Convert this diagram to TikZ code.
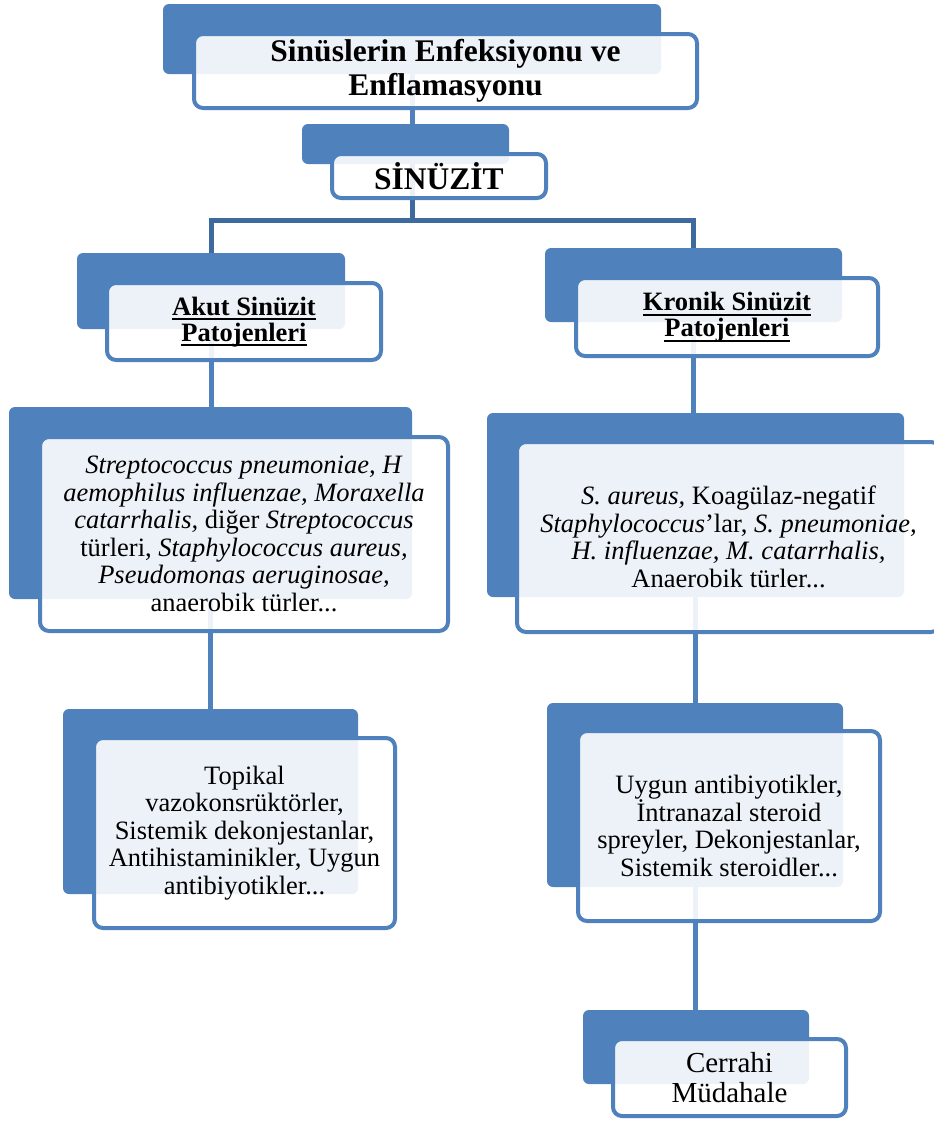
\documentclass[tikz,border=0pt]{standalone}
\usepackage{fontspec}
\setmainfont{Liberation Serif}
\usepackage{tikz}
\usetikzlibrary{backgrounds}
\usepackage{xcolor}
\definecolor{smartblue}{HTML}{4F81BD}
\definecolor{bardark}{HTML}{3F6A9E}
\newcommand{\undl}[1]{\vtop{\hbox{\raisebox{0pt}[\height][0pt]{#1}}\kern3pt\hrule height 1.8pt}}
\tikzset{
  backbox/.style={fill=smartblue, rounded corners=6pt, inner sep=0pt},
  frontbox/.style={draw=smartblue, line width=4pt, fill=white, fill opacity=0.9, text opacity=1,
    rounded corners=9pt, inner sep=0pt, align=center, font=\fontsize{26.5}{27.6}\selectfont},
  link/.style={draw=smartblue, line width=5pt},
  barlink/.style={draw=bardark, line width=5pt},
}

\begin{document}
\begin{tikzpicture}[x=1pt,y=-1pt]
\useasboundingbox (0,0) rectangle (934,1122);

% back boxes
\node[backbox, minimum width=498pt, minimum height=70pt] (tback) at (412,39) {};
\node[backbox, minimum width=207pt, minimum height=40pt] (sback) at (405.5,144) {};
\node[backbox, minimum width=268pt, minimum height=76pt] (aback) at (211,291) {};
\node[backbox, minimum width=297pt, minimum height=74pt] (kback) at (693.5,285) {};
\node[backbox, minimum width=403pt, minimum height=192pt] (apback) at (210.5,503) {};
\node[backbox, minimum width=417pt, minimum height=184pt] (kpback) at (695.5,505) {};
\node[backbox, minimum width=295pt, minimum height=185pt] (atback) at (210.5,801.5) {};
\node[backbox, minimum width=296pt, minimum height=184pt] (ktback) at (695,795) {};
\node[backbox, minimum width=226pt, minimum height=74pt] (cback) at (696,1047) {};

% front boxes with the texts
\node[frontbox, minimum width=503pt, minimum height=74pt, font=\bfseries\fontsize{31.5}{34}\selectfont]
  (title) at (445.5,71) {Sinüslerin Enfeksiyonu ve\\Enflamasyonu};
\node[frontbox, minimum width=214pt, minimum height=44pt, font=\bfseries\fontsize{31.5}{34}\selectfont]
  (sinuzit) at (439,176) {SİNÜZİT};
\node[frontbox, minimum width=274pt, minimum height=77pt, font=\bfseries\fontsize{26.5}{26}\selectfont]
  (akut) at (244,321.5) {\undl{Akut Sinüzit}\\\undl{Patojenleri}};
\node[frontbox, minimum width=302pt, minimum height=78pt, font=\bfseries\fontsize{26.5}{26}\selectfont]
  (kronik) at (727,317) {\undl{Kronik Sinüzit}\\\undl{Patojenleri}};
\node[frontbox, minimum width=408pt, minimum height=194pt] (akutpat) at (244,534)
  {\textit{Streptococcus pneumoniae, H}\\
   \textit{aemophilus influenzae, Moraxella}\\
   \textit{catarrhalis,} diğer \textit{Streptococcus}\\
   türleri, \textit{Staphylococcus aureus,}\\
   \textit{Pseudomonas aeruginosae,}\\
   anaerobik türler...};
\node[frontbox, minimum width=423pt, minimum height=190pt] (kronikpat) at (728.5,537)
  {\textit{S. aureus,} Koagülaz-negatif\\
   \textit{Staphylococcus}’lar, \textit{S. pneumoniae,}\\
   \textit{H. influenzae, M. catarrhalis,}\\
   Anaerobik türler...};
\node[frontbox, minimum width=301pt, minimum height=190pt] (akuttedavi) at (244.5,833)
  {Topikal\\vazokonsrüktörler,\\Sistemik dekonjestanlar,\\Antihistaminikler, Uygun\\antibiyotikler...};
\node[frontbox, minimum width=302pt, minimum height=190pt] (kroniktedavi) at (729,826)
  {Uygun antibiyotikler,\\İntranazal steroid\\spreyler, Dekonjestanlar,\\Sistemik steroidler...};
\node[frontbox, minimum width=233pt, minimum height=77pt, font=\fontsize{29}{30}\selectfont]
  (cerrahi) at (729.5,1077.5) {Cerrahi\\Müdahale};

% connectors behind the boxes
\coordinate (fork) at (412,220);
\begin{pgfonlayer}{background}
\fill[white] (0,0) rectangle (934,1122);
\draw[link] (tback.south) -- (tback.south |- sback.north);
\draw[barlink] (fork |- sback.south) -- (fork);
\draw[barlink] (aback.north) |- (fork) -| (kback.north);
\draw[link] (aback.south) -- (aback.south |- apback.north);
\draw[link] (kback.south) -- (kback.south |- kpback.north);
\draw[link] (apback.south) -- (apback.south |- atback.north);
\draw[link] (kpback.south) -- (kpback.south |- ktback.north);
\draw[link] (ktback.south) -- (ktback.south |- cback.north);
\end{pgfonlayer}
\end{tikzpicture}
\end{document}
